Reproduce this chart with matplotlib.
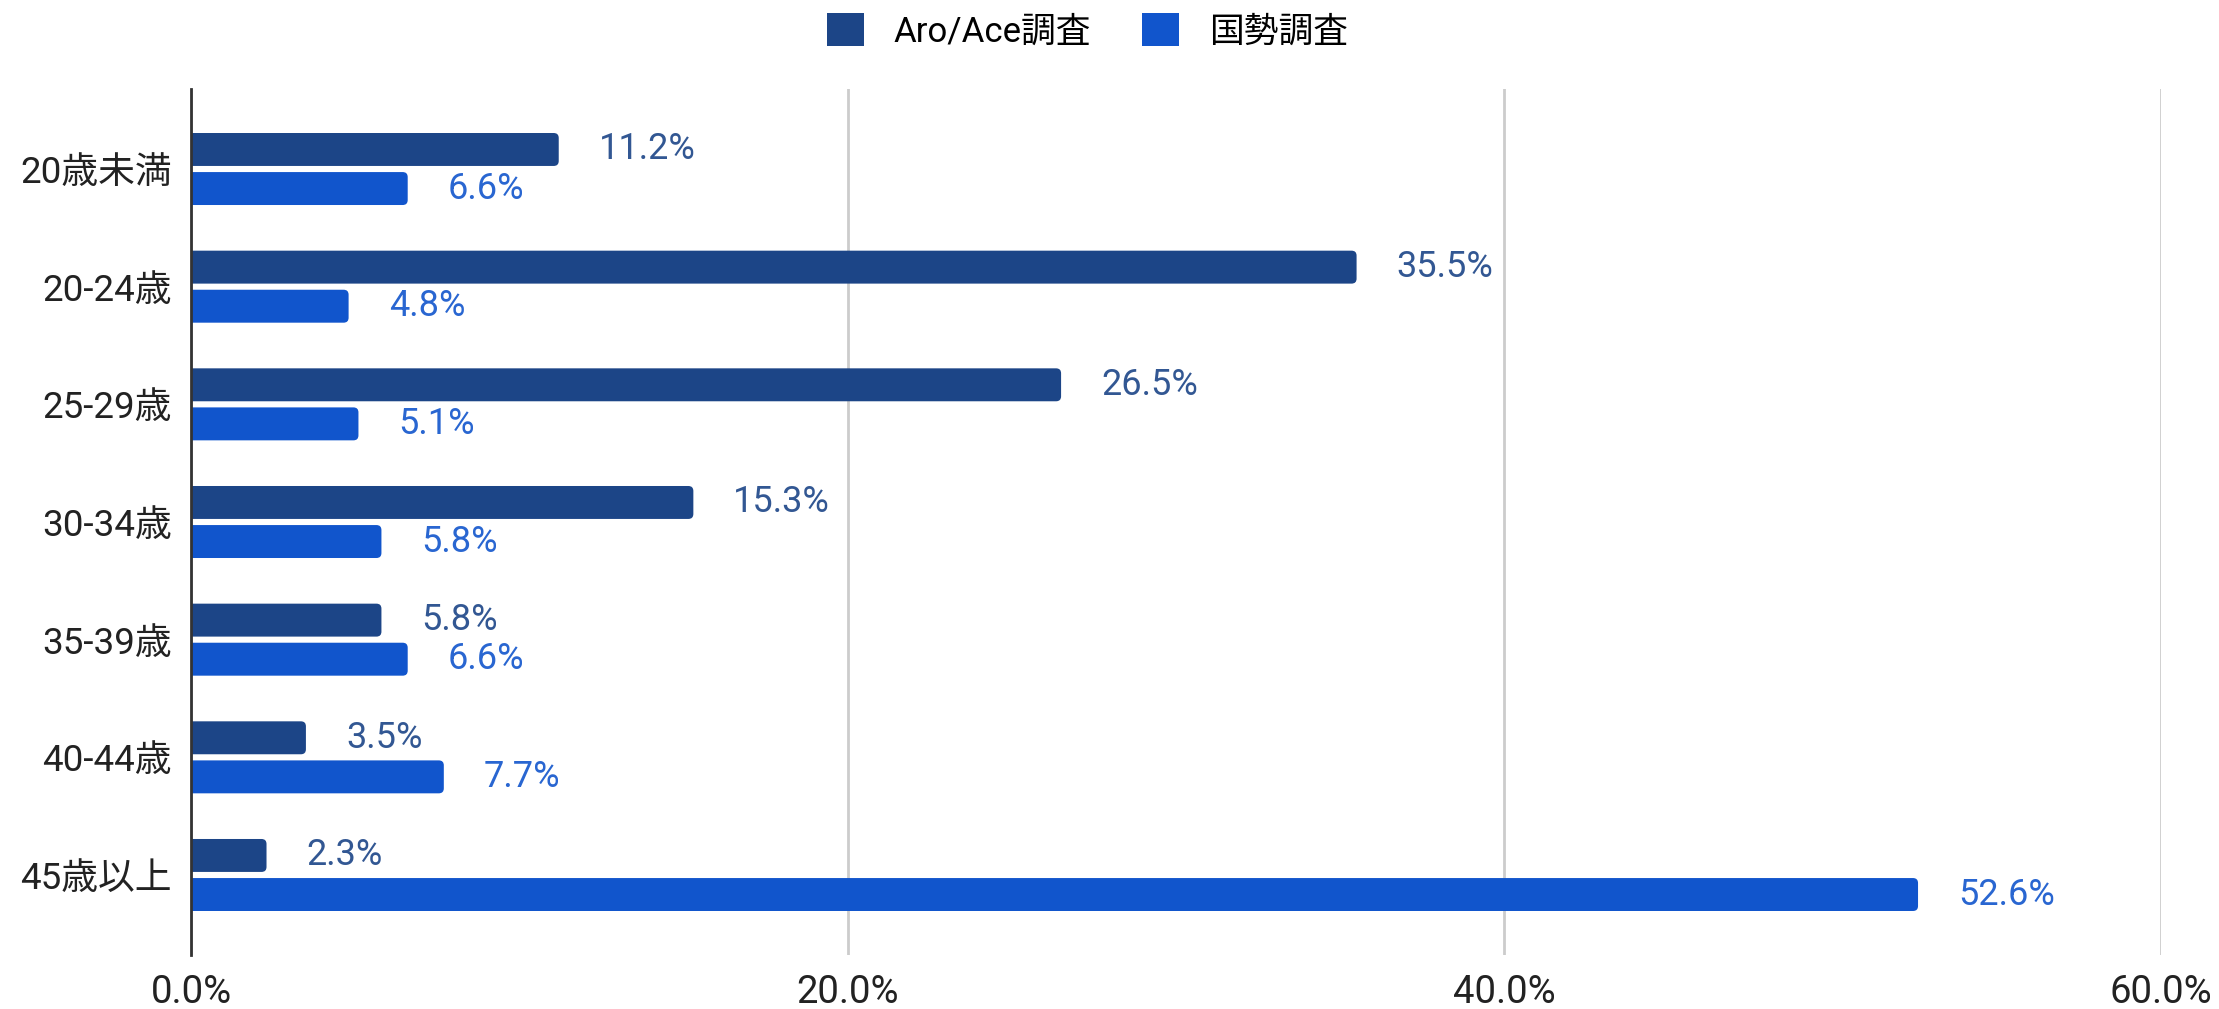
import matplotlib
matplotlib.use("Agg")
import matplotlib.pyplot as plt
from matplotlib.patches import FancyBboxPatch, Patch
import numpy as np

categories = ["20歳未満", "20-24歳", "25-29歳", "30-34歳", "35-39歳", "40-44歳", "45歳以上"]
aroace = [11.2, 35.5, 26.5, 15.3, 5.8, 3.5, 2.3]
census = [6.6, 4.8, 5.1, 5.8, 6.6, 7.7, 52.6]
series_names = ["Aro/Ace調査", "国勢調査"]
xticks = [0, 20, 40, 60]
xtick_labels = ["0.0%", "20.0%", "40.0%", "60.0%"]

plt.rcParams['font.family'] = ['Roboto', 'Noto Sans CJK JP', 'DejaVu Sans']

dark = "#1c4587"
blue = "#1155cc"

W, H = 2219, 1009
fig = plt.figure(figsize=(W/100, H/100), dpi=100)
L, R, T, B = 191, 2161, 89, 955
ax = fig.add_axes([L/W, 1-B/H, (R-L)/W, (B-T)/H])

y = np.arange(len(categories))
h = 0.28
off = 0.166
xmax = 60
ymin, ymax = -0.68, len(categories) - 1 + 0.68
px_per_x = (R - L) / xmax
px_per_y = (B - T) / (ymax - ymin)
rpx = 5.0
rx = rpx / px_per_x
aspect = (rpx / px_per_y) / rx

b1 = ax.barh(y - off, aroace, height=h, color=dark, zorder=3)
b2 = ax.barh(y + off, census, height=h, color=blue, zorder=3)

for bars, vals, c in [(b1, aroace, dark), (b2, census, blue)]:
    for rect, v in zip(bars, vals):
        rect.set_visible(False)
        x0 = -0.5
        p = FancyBboxPatch((x0, rect.get_y()), v - x0, rect.get_height(),
                           boxstyle=f"round,pad=0,rounding_size={rx}",
                           mutation_aspect=aspect, facecolor=c, edgecolor='none',
                           zorder=3, clip_on=True)
        ax.add_patch(p)
        ax.annotate(f"{v:.1f}%", xy=(v, rect.get_y() + rect.get_height()/2),
                    xytext=(40, 0), textcoords='offset pixels',
                    ha='left', va='center', fontsize=26, color=c, alpha=0.9)

ax.set_xlim(0, xmax)
ax.set_ylim(ymax, ymin)
ax.set_xticks(xticks)
ax.set_xticklabels(xtick_labels)
ax.set_yticks(y)
ax.set_yticklabels(categories)
ax.tick_params(axis='both', length=0, colors="#222222")
ax.tick_params(axis='x', pad=14, labelsize=27.5)
ax.tick_params(axis='y', pad=14, labelsize=26.5)
ax.xaxis.grid(True, color="#cccccc", linewidth=2, zorder=0)
for s in ["top", "right", "bottom"]:
    ax.spines[s].set_visible(False)
ax.spines["left"].set_color("#333333")
ax.spines["left"].set_linewidth(2)
ax.spines["left"].set_zorder(4)

handles = [Patch(facecolor=dark, edgecolor='none'), Patch(facecolor=blue, edgecolor='none')]
fig.legend(handles=handles, labels=series_names, loc='center', bbox_to_anchor=(0.49, 1-31/H),
           ncol=2, frameon=False, fontsize=25, handlelength=1.07, handleheight=1.07,
           columnspacing=1.47, handletextpad=0.86)

fig.savefig("out.png", dpi=100, facecolor="white")
